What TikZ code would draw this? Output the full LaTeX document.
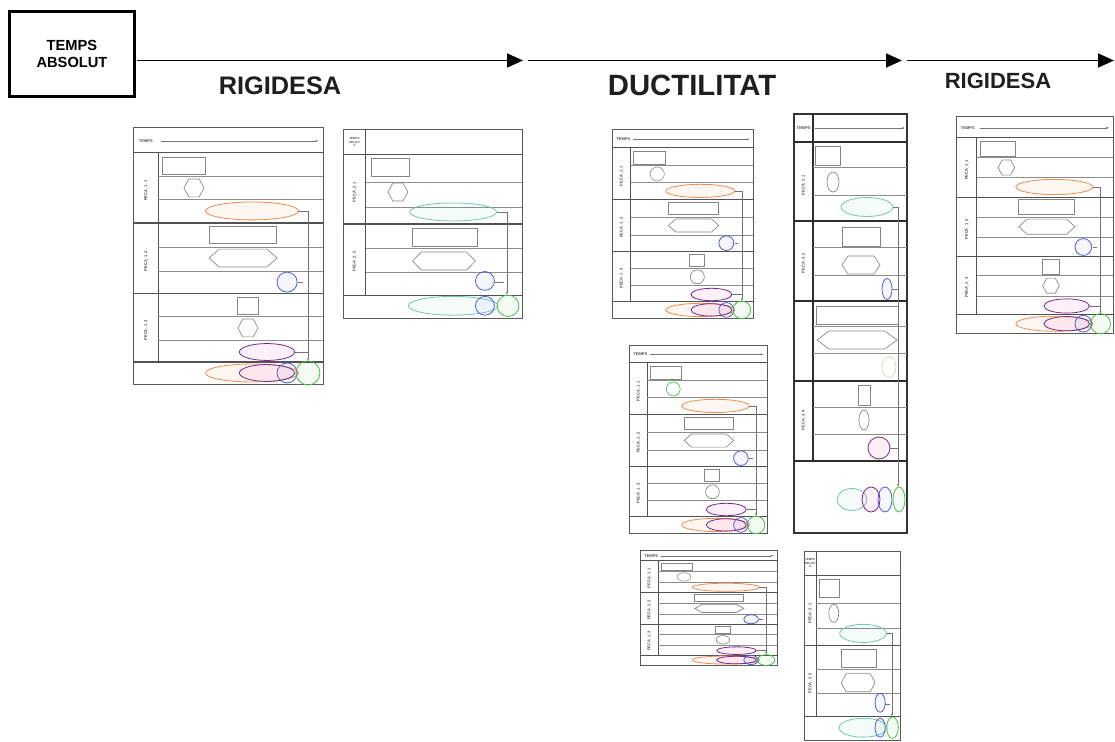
\documentclass[tikz,border=0pt]{standalone}
\usepackage{fontspec}
\setmainfont{Liberation Sans}
\usetikzlibrary{arrows.meta}
\definecolor{corange}{RGB}{236,140,80}
\definecolor{cteal}{RGB}{110,200,180}
\definecolor{cblue}{RGB}{80,90,220}
\definecolor{cpurple}{RGB}{120,40,140}
\definecolor{cgreen}{RGB}{70,190,70}
\definecolor{cpale}{RGB}{215,215,190}
\tikzset{
  pborder/.style={draw=black!65, line width=0.75pt},
  pdiv/.style={draw=black!68, line width=0.8pt},
  psub/.style={draw=black!45, line width=0.4pt},
  shp/.style={draw=black!48, line width=0.5pt},
  eorange/.style={draw=corange, line width=0.6pt, fill=corange, fill opacity=0.08},
  eteal/.style={draw=cteal, line width=0.6pt, fill=cteal, fill opacity=0.08},
  eblue/.style={draw=cblue, line width=0.6pt, fill=cblue, fill opacity=0.05},
  epurple/.style={draw=cpurple, line width=0.6pt, fill=magenta, fill opacity=0.06},
  egreen/.style={draw=cgreen, line width=0.6pt, fill=cgreen, fill opacity=0.06},
  epale/.style={draw=cpale, line width=0.6pt},
  tinytxt/.style={font=\fontsize{3}{3.4}\selectfont\bfseries, text=black!70, inner sep=0pt, align=center},
  lbltxt/.style={tinytxt, rotate=90},
  hdrarrow/.style={draw=black!55, line width=0.35pt, -{Latex[length=2pt,width=1.6pt]}},
  conn/.style={draw=black!55, line width=0.4pt},
  connarr/.style={conn, -{Latex[length=2pt,width=1.6pt]}},
  titletxt/.style={font=\bfseries, text=black!88, inner sep=0pt},
  mainarrow/.style={line width=1.3pt, -{Triangle[length=12pt,width=10.5pt]}},
  absbox/.style={draw, line width=1.8pt, minimum width=94pt, minimum height=64pt,
    align=center, font=\fontsize{11}{12.5}\selectfont\bfseries, inner sep=0pt}
}
% hexagon: style, cx, cy, half width, half height, corner inset
\newcommand{\hexa}[6]{\draw[#1] (#2-#4,#3) -- (#2-#4+#6,#3-#5) -- (#2+#4-#6,#3-#5) -- (#2+#4,#3) -- (#2+#4-#6,#3+#5) -- (#2-#4+#6,#3+#5) -- cycle;}
% ellipse: style, cx, cy, rx, ry
\newcommand{\myell}[5]{\draw[#1] (#2,#3) ellipse [x radius=#4, y radius=#5];}
% three-group panel: x0 y0 w h variant(1 hex, 2 circle) colour-of-first-small-shape name
\newcommand{\panelA}[7]{%
\begin{scope}[shift={(#1,#2)},xscale=#3,yscale=#4]
\draw[pborder] (0,0) rectangle (1,1);
\draw[pdiv] (0,0.094)--(1,0.094) (0,0.371)--(1,0.371) (0,0.645)--(1,0.645) (0,0.914)--(1,0.914) (0.132,0.094)--(0.132,0.914);
\draw[psub] (0.132,0.1875)--(1,0.1875) (0.132,0.277)--(1,0.277) (0.132,0.465)--(1,0.465) (0.132,0.559)--(1,0.559) (0.132,0.734)--(1,0.734) (0.132,0.828)--(1,0.828);
\node[tinytxt,anchor=west] (#7h) at (0.03,0.05) {TEMPS};
\draw[hdrarrow] (0.15,0.05)--(0.975,0.05);
\node[lbltxt] (#7l1) at (0.068,0.245) {PECA\_1\_1};
\node[lbltxt] (#7l2) at (0.068,0.52) {PECA\_1\_2};
\node[lbltxt] (#7l3) at (0.068,0.79) {PECA\_1\_3};
\draw[shp] (0.153,0.113) rectangle (0.379,0.18);
\ifnum#5=1
  \hexa{shp,draw=#6}{0.321}{0.234}{0.053}{0.035}{0.026}
  \hexa{shp}{0.605}{0.781}{0.053}{0.035}{0.026}
\else
  \myell{shp,draw=#6}{0.321}{0.234}{0.05}{0.037}
  \myell{shp}{0.605}{0.781}{0.05}{0.037}
\fi
\myell{eorange}{0.626}{0.324}{0.245}{0.035}
\draw[shp] (0.4,0.383) rectangle (0.753,0.449);
\hexa{shp}{0.579}{0.508}{0.179}{0.035}{0.053}
\myell{eblue}{0.811}{0.602}{0.053}{0.039}
\draw[shp] (0.547,0.66) rectangle (0.658,0.727);
\myell{epurple}{0.705}{0.875}{0.145}{0.033}
\myell{eorange}{0.626}{0.957}{0.245}{0.035}
\myell{epurple}{0.705}{0.957}{0.145}{0.033}
\myell{eblue}{0.811}{0.957}{0.053}{0.039}
\myell{egreen}{0.921}{0.957}{0.063}{0.047}
\draw[connarr] (0.871,0.324)--(0.921,0.324)--(0.921,0.91);
\draw[conn] (0.85,0.875)--(0.921,0.875);
\draw[conn] (0.87,0.602)--(0.895,0.602);
\end{scope}}
% two-group panel: x0 y0 w h variant name
\newcommand{\panelB}[6]{%
\begin{scope}[shift={(#1,#2)},xscale=#3,yscale=#4]
\draw[pborder] (0,0) rectangle (1,1);
\draw[pdiv] (0,0.128)--(1,0.128) (0,0.5)--(1,0.5) (0,0.878)--(1,0.878) (0.128,0)--(0.128,0.878);
\draw[psub] (0.128,0.277)--(1,0.277) (0.128,0.41)--(1,0.41) (0.128,0.628)--(1,0.628) (0.128,0.755)--(1,0.755);
\node[tinytxt,font=\fontsize{2.2}{2.6}\selectfont\bfseries] (#6h) at (0.064,0.064) {TEMPS\\RELATI\\U};
\node[lbltxt] (#6l1) at (0.064,0.33) {PECA\_2\_1};
\node[lbltxt] (#6l2) at (0.064,0.70) {PECA\_2\_2};
\draw[shp] (0.156,0.149) rectangle (0.369,0.245);
\ifnum#5=1
  \hexa{shp}{0.307}{0.33}{0.056}{0.048}{0.028}
\else
  \myell{shp}{0.31}{0.33}{0.052}{0.048}
\fi
\myell{eteal}{0.615}{0.436}{0.243}{0.048}
\draw[shp] (0.385,0.521) rectangle (0.749,0.617);
\hexa{shp}{0.564}{0.697}{0.176}{0.048}{0.05}
\myell{eblue}{0.793}{0.803}{0.053}{0.05}
\myell{eteal}{0.615}{0.935}{0.25}{0.05}
\myell{eblue}{0.793}{0.935}{0.053}{0.05}
\myell{egreen}{0.922}{0.935}{0.061}{0.057}
\draw[connarr] (0.858,0.436)--(0.916,0.436)--(0.916,0.876);
\draw[conn] (0.846,0.81)--(0.9,0.81);
\end{scope}}
\begin{document}
\begin{tikzpicture}[x=0.75pt,y=-0.75pt]
\useasboundingbox (0,0) rectangle (1115,742);
% header
\node[absbox] (abs) at (72,54) {TEMPS\\ABSOLUT};
\coordinate (a1s) at (137,60.5);
\coordinate (a1e) at (523,60.5);
\coordinate (a2s) at (528,60.5);
\coordinate (a2e) at (902,60.5);
\coordinate (a3s) at (907,60.5);
\coordinate (a3e) at (1114,60.5);
\draw[mainarrow] (a1s) -- (a1e);
\draw[mainarrow] (a2s) -- (a2e);
\draw[mainarrow] (a3s) -- (a3e);
\node[titletxt, font=\fontsize{19}{22}\selectfont\bfseries] (t1) at (280,86) {RIGIDESA};
\node[titletxt, font=\fontsize{22}{25}\selectfont\bfseries] (t2) at (692,85) {DUCTILITAT};
\node[titletxt, font=\fontsize{16.5}{19}\selectfont\bfseries] (t3) at (998,81) {RIGIDESA};
% panels
\panelA{133}{128}{190}{256}{1}{black!48}{pa}
\panelB{343}{130}{179}{188}{1}{pb}
\panelA{612}{130}{141}{188}{2}{black!40}{pc}
\panelA{629}{345}{138}{188}{2}{cgreen}{pe}
\panelA{640}{550}{137}{115}{2}{black!40}{pf}
\panelB{804}{551}{96}{189}{2}{pg}
\panelA{956}{117}{157}{216}{1}{black!48}{ph}
% tall four-group panel
\begin{scope}[pborder/.append style={draw=black!80, line width=0.9pt}, pdiv/.append style={draw=black!82, line width=0.95pt}]
\draw[pborder] (794,114) rectangle (907,533);
\draw[pdiv] (794,142)--(907,142) (794,221)--(907,221) (794,301)--(907,301) (794,381)--(907,381) (794,461)--(907,461) (813,114)--(813,461);
\draw[psub] (813,167)--(907,167) (813,195)--(907,195) (813,247)--(907,247) (813,275)--(907,275) (813,326)--(907,326) (813,353)--(907,353) (813,407)--(907,407) (813,434)--(907,434);
\node[tinytxt] (pdh) at (803.5,128) {TEMPS};
\draw[hdrarrow] (815,128)--(905,128);
\node[lbltxt] (pdl1) at (803.5,185) {PECA\_3\_1};
\node[lbltxt] (pdl2) at (803.5,263) {PECA\_3\_2};
\node[lbltxt] (pdl4) at (803.5,420) {PECA\_3\_4};
\draw[shp] (815,146) rectangle (840,165);
\myell{shp}{833}{182}{6}{10}
\myell{eteal}{867}{207}{26}{9.5}
\draw[shp] (842,227) rectangle (880,246);
\hexa{shp}{861}{265}{19}{9}{6}
\myell{eblue}{887}{289}{5}{10.5}
\draw[shp] (816,306) rectangle (898,324);
\hexa{shp}{857}{340}{40}{9}{12}
\myell{epale}{889}{367}{7}{10.5}
\draw[shp] (858,385) rectangle (870,405);
\myell{shp}{864}{420}{5}{10}
\myell{epurple}{879}{448}{11}{11}
\myell{eteal}{852}{499.5}{15}{11}
\myell{epurple}{871}{499.5}{9}{12.5}
\myell{eblue}{885}{499.5}{7}{12.5}
\myell{egreen}{899}{499.5}{6}{12.5}
\draw[connarr] (893,207)--(898,207)--(898,487);
\draw[conn] (892,289)--(898,289);
\draw[conn] (890,448)--(898,448);
\end{scope}
\end{tikzpicture}
\end{document}
